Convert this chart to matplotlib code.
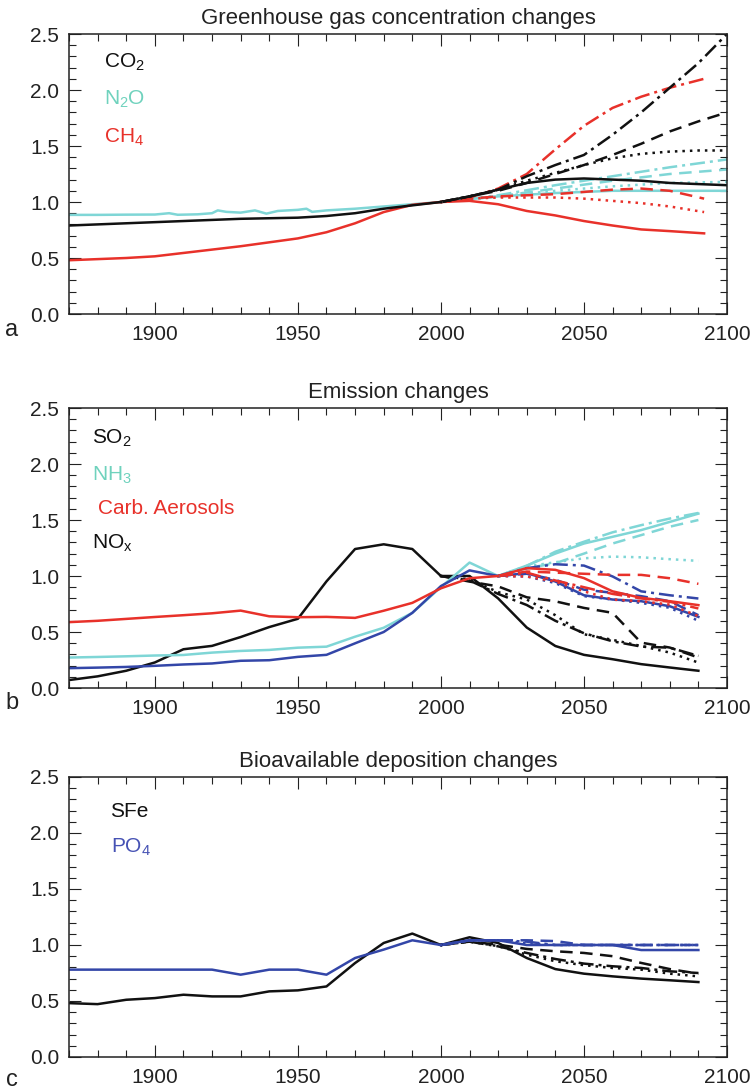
import matplotlib
matplotlib.use("Agg")
import matplotlib.pyplot as plt
from matplotlib.ticker import MultipleLocator

plt.rcParams['font.family'] = ['Liberation Sans', 'DejaVu Sans']
plt.rcParams['mathtext.fontset'] = 'custom'
plt.rcParams['mathtext.rm'] = 'Liberation Sans'
plt.rcParams['mathtext.default'] = 'regular'

BLACK = '#111111'
CYAN = '#7fd6d6'
RED = '#e8312a'
BLUE = '#3346a8'

# scenario line styles: RCP2.6, RCP4.5, RCP6.0, RCP8.5
styles = ['-', (0, (1, 2)), (0, (5, 3)), (0, (6, 2, 1.2, 2))]

# ---------------- panel a : greenhouse gas concentrations ----------------
dec_hist = [1870, 1880, 1890, 1900, 1910, 1920, 1930, 1940, 1950, 1960, 1970, 1980, 1990, 2000]
co2_hist = [0.79, 0.80, 0.81, 0.82, 0.83, 0.84, 0.85, 0.855, 0.86, 0.875, 0.90, 0.94, 0.97, 1.0]
ch4_hist = [0.48, 0.49, 0.50, 0.515, 0.545, 0.575, 0.605, 0.64, 0.675, 0.73, 0.81, 0.91, 0.975, 1.0]
n2o_hist_years = [1870, 1880, 1890, 1900, 1905, 1908, 1915, 1920, 1922, 1925, 1930, 1935, 1939,
                  1943, 1950, 1953, 1955, 1960, 1970, 1980, 1990, 2000]
n2o_hist = [0.885, 0.885, 0.887, 0.888, 0.90, 0.886, 0.89, 0.90, 0.925, 0.912, 0.905, 0.925, 0.896,
            0.92, 0.93, 0.94, 0.912, 0.925, 0.94, 0.96, 0.98, 1.0]

fut_years_a = [2000, 2010, 2020, 2030, 2040, 2050, 2060, 2070, 2080, 2090, 2100]
co2_fut = [
    [1.0, 1.05, 1.11, 1.17, 1.20, 1.21, 1.20, 1.19, 1.17, 1.16, 1.15],
    [1.0, 1.05, 1.11, 1.19, 1.26, 1.33, 1.39, 1.43, 1.45, 1.46, 1.46],
    [1.0, 1.05, 1.10, 1.17, 1.25, 1.33, 1.42, 1.52, 1.63, 1.72, 1.80],
    [1.0, 1.05, 1.11, 1.23, 1.33, 1.42, 1.60, 1.80, 2.02, 2.24, 2.50],
]
n2o_fut_years = [2000, 2020, 2040, 2060, 2080, 2100]
n2o_fut = [
    [1.0, 1.05, 1.08, 1.10, 1.10, 1.10],
    [1.0, 1.05, 1.10, 1.14, 1.17, 1.18],
    [1.0, 1.05, 1.12, 1.19, 1.25, 1.29],
    [1.0, 1.06, 1.15, 1.23, 1.31, 1.38],
]
ch4_fut_years = [2000, 2010, 2020, 2030, 2040, 2050, 2060, 2070, 2080, 2092]
ch4_fut = [
    [1.0, 1.01, 0.98, 0.92, 0.88, 0.83, 0.79, 0.755, 0.74, 0.72],
    [1.0, 1.03, 1.04, 1.04, 1.04, 1.03, 1.01, 0.99, 0.96, 0.91],
    [1.0, 1.03, 1.05, 1.06, 1.07, 1.09, 1.11, 1.12, 1.10, 1.03],
    [1.0, 1.04, 1.12, 1.25, 1.47, 1.68, 1.84, 1.94, 2.02, 2.10],
]

# ---------------- panel b : emissions ----------------
years_b_hist = [1870, 1880, 1890, 1900, 1910, 1920, 1930, 1940, 1950, 1960, 1970, 1980, 1990, 2000, 2010, 2020]
so2_hist = [0.071, 0.104, 0.154, 0.228, 0.346, 0.376, 0.455, 0.544, 0.618, 0.952, 1.241, 1.283, 1.241, 1.0]
carb_hist = [0.588, 0.60, 0.617, 0.634, 0.65, 0.667, 0.691, 0.64, 0.632, 0.635, 0.626, 0.69, 0.76, 0.89, 0.98, 1.0]
nh3_hist = [0.272, 0.277, 0.283, 0.29, 0.295, 0.316, 0.331, 0.34, 0.36, 0.369, 0.458, 0.538, 0.671, 0.90, 1.12, 1.0]
nox_hist = [0.177, 0.182, 0.188, 0.198, 0.21, 0.219, 0.243, 0.248, 0.278, 0.296, 0.399, 0.50, 0.671, 0.91, 1.05, 1.0]

so2_fut_years = [2000, 2010, 2020, 2030, 2040, 2050, 2060, 2070, 2080, 2090]
so2_fut = [
    [1.0, 1.0, 0.80, 0.54, 0.375, 0.296, 0.257, 0.213, 0.183, 0.154],
    [1.0, 0.97, 0.856, 0.79, 0.65, 0.48, 0.43, 0.375, 0.316, 0.227],
    [1.0, 0.95, 0.907, 0.81, 0.774, 0.715, 0.671, 0.405, 0.361, 0.272],
    [1.0, 0.96, 0.84, 0.741, 0.60, 0.489, 0.417, 0.37, 0.36, 0.287],
]
fut_years_b = [2020, 2030, 2040, 2050, 2060, 2070, 2080, 2090]
carb_fut = [
    [1.0, 1.07, 1.055, 0.981, 0.863, 0.805, 0.775, 0.74],
    [1.0, 0.996, 0.951, 0.863, 0.79, 0.775, 0.745, 0.642],
    [1.0, 1.04, 1.03, 1.02, 1.01, 1.01, 0.98, 0.93],
    [1.0, 1.03, 0.96, 0.90, 0.84, 0.80, 0.77, 0.71],
]
nh3_fut = [
    [1.0, 1.093, 1.20, 1.29, 1.35, 1.41, 1.483, 1.557],
    [1.0, 1.085, 1.123, 1.158, 1.173, 1.167, 1.15, 1.135],
    [1.0, 1.07, 1.114, 1.20, 1.29, 1.365, 1.44, 1.50],
    [1.0, 1.09, 1.217, 1.306, 1.39, 1.454, 1.513, 1.563],
]
nox_fut = [
    [1.0, 1.025, 0.951, 0.828, 0.79, 0.775, 0.73, 0.635],
    [1.0, 0.996, 0.937, 0.82, 0.79, 0.76, 0.716, 0.60],
    [1.0, 1.02, 0.966, 0.878, 0.85, 0.82, 0.775, 0.65],
    [1.0, 1.07, 1.105, 1.093, 0.996, 0.863, 0.828, 0.799],
]

# ---------------- panel c : bioavailable deposition ----------------
sfe_hist = [0.481, 0.472, 0.511, 0.526, 0.556, 0.541, 0.541, 0.586, 0.595, 0.63, 0.839, 1.018, 1.102, 1.0]
po4_hist = [0.78, 0.78, 0.78, 0.78, 0.78, 0.78, 0.735, 0.78, 0.78, 0.735, 0.884, 0.959, 1.042, 1.0]
fut_years_c = [2000, 2010, 2020, 2030, 2040, 2050, 2060, 2070, 2080, 2090]
sfe_fut = [
    [1.0, 1.069, 1.018, 0.884, 0.785, 0.744, 0.72, 0.70, 0.685, 0.669],
    [1.0, 1.03, 0.99, 0.914, 0.855, 0.82, 0.795, 0.78, 0.744, 0.72],
    [1.0, 1.03, 1.003, 0.965, 0.944, 0.929, 0.90, 0.84, 0.785, 0.744],
    [1.0, 1.03, 0.988, 0.929, 0.875, 0.834, 0.81, 0.795, 0.765, 0.75],
]
po4_fut = [
    [1.0, 1.042, 1.042, 1.0, 1.0, 1.0, 1.0, 0.955, 0.955, 0.955],
    [1.0, 1.042, 1.042, 1.015, 1.0, 1.0, 1.0, 1.0, 1.0, 1.0],
    [1.0, 1.042, 1.042, 1.042, 1.035, 1.0, 1.0, 1.0, 1.0, 1.0],
    [1.0, 1.042, 1.042, 1.03, 1.0, 1.0, 1.0, 1.0, 1.0, 1.0],
]

LW = 1.8


def style_axes(ax, title):
    ax.set_xlim(1870, 2100)
    ax.set_ylim(0, 2.5)
    ax.xaxis.set_major_locator(MultipleLocator(50))
    ax.xaxis.set_minor_locator(MultipleLocator(10))
    ax.yaxis.set_major_locator(MultipleLocator(0.5))
    ax.yaxis.set_minor_locator(MultipleLocator(0.1))
    ax.yaxis.set_major_formatter(matplotlib.ticker.FormatStrFormatter('%.1f'))
    ax.tick_params(which='both', direction='in', top=True, right=True, width=0.8,
                   labelsize=15, colors='#222222')
    ax.tick_params(which='major', length=8.5, pad=7)
    ax.tick_params(which='minor', length=5)
    ax.tick_params(axis='x', which='major', pad=8)
    for s in ax.spines.values():
        s.set_linewidth(1.1)
        s.set_color('#222222')
    ax.set_title(title, fontsize=16, pad=7, color='#222222')


fig = plt.figure(figsize=(7.53, 10.90), dpi=100)
L, W, H = 69 / 753, 658 / 753, 280 / 1090
ax_a = fig.add_axes([L, 1 - 314 / 1090, W, H])
ax_b = fig.add_axes([L, 1 - 688 / 1090, W, H])
ax_c = fig.add_axes([L, 1 - 1057 / 1090, W, H])

# panel a
ax = ax_a
for vals, ls in zip(n2o_fut, styles):
    ax.plot(n2o_fut_years, vals, color=CYAN, lw=LW, ls=ls)
for vals, ls in zip(ch4_fut, styles):
    ax.plot(ch4_fut_years, vals, color=RED, lw=LW, ls=ls)
for vals, ls in zip(co2_fut, styles):
    ax.plot(fut_years_a, vals, color=BLACK, lw=LW, ls=ls)
ax.plot(n2o_hist_years, n2o_hist, color=CYAN, lw=LW)
ax.plot(dec_hist, ch4_hist, color=RED, lw=LW)
ax.plot(dec_hist, co2_hist, color=BLACK, lw=LW)
style_axes(ax, 'Greenhouse gas concentration changes')
ax.text(0.053, 0.90, 'CO$_2$', transform=ax.transAxes, fontsize=15, color=BLACK, va='center')
ax.text(0.053, 0.768, 'N$_2$O', transform=ax.transAxes, fontsize=15, color='#6fd2bd', va='center')
ax.text(0.053, 0.632, 'CH$_4$', transform=ax.transAxes, fontsize=15, color=RED, va='center')

# panel b
ax = ax_b
for vals, ls in zip(so2_fut, styles):
    ax.plot(so2_fut_years, vals, color=BLACK, lw=LW, ls=ls)
for vals, ls in zip(nh3_fut, styles):
    ax.plot(fut_years_b, vals, color=CYAN, lw=LW, ls=ls)
for vals, ls in zip(nox_fut, styles):
    ax.plot(fut_years_b, vals, color=BLUE, lw=LW, ls=ls)
for vals, ls in zip(carb_fut, styles):
    ax.plot(fut_years_b, vals, color=RED, lw=LW, ls=ls)
ax.plot(years_b_hist[:len(so2_hist)], so2_hist, color=BLACK, lw=LW)
ax.plot(years_b_hist, nh3_hist, color=CYAN, lw=LW)
ax.plot(years_b_hist, nox_hist, color=BLUE, lw=LW)
ax.plot(years_b_hist, carb_hist, color=RED, lw=LW)
style_axes(ax, 'Emission changes')
ax.text(0.035, 0.89, 'SO$_2$', transform=ax.transAxes, fontsize=15, color=BLACK, va='center')
ax.text(0.035, 0.758, 'NH$_3$', transform=ax.transAxes, fontsize=15, color='#6fd2bd', va='center')
ax.text(0.044, 0.642, 'Carb. Aerosols', transform=ax.transAxes, fontsize=15, color=RED, va='center')
ax.text(0.035, 0.518, 'NO$_x$', transform=ax.transAxes, fontsize=15, color=BLACK, va='center')

# panel c
ax = ax_c
for vals, ls in zip(sfe_fut, styles):
    ax.plot(fut_years_c, vals, color=BLACK, lw=LW, ls=ls)
for vals, ls in zip(po4_fut, styles):
    ax.plot(fut_years_c, vals, color=BLUE, lw=LW, ls=ls)
ax.plot(dec_hist, sfe_hist, color=BLACK, lw=LW)
ax.plot(dec_hist, po4_hist, color=BLUE, lw=LW)
style_axes(ax, 'Bioavailable deposition changes')
ax.text(0.062, 0.878, 'SFe', transform=ax.transAxes, fontsize=15, color=BLACK, va='center')
ax.text(0.064, 0.749, 'PO$_4$', transform=ax.transAxes, fontsize=15, color='#4652b4', va='center')

# panel letters
for lab, ypx in [('a', 330), ('b', 703), ('c', 1080)]:
    fig.text(12 / 753, 1 - ypx / 1090, lab, fontsize=17, color='#222222', va='center', ha='center')

fig.savefig('out.png', dpi=100)
